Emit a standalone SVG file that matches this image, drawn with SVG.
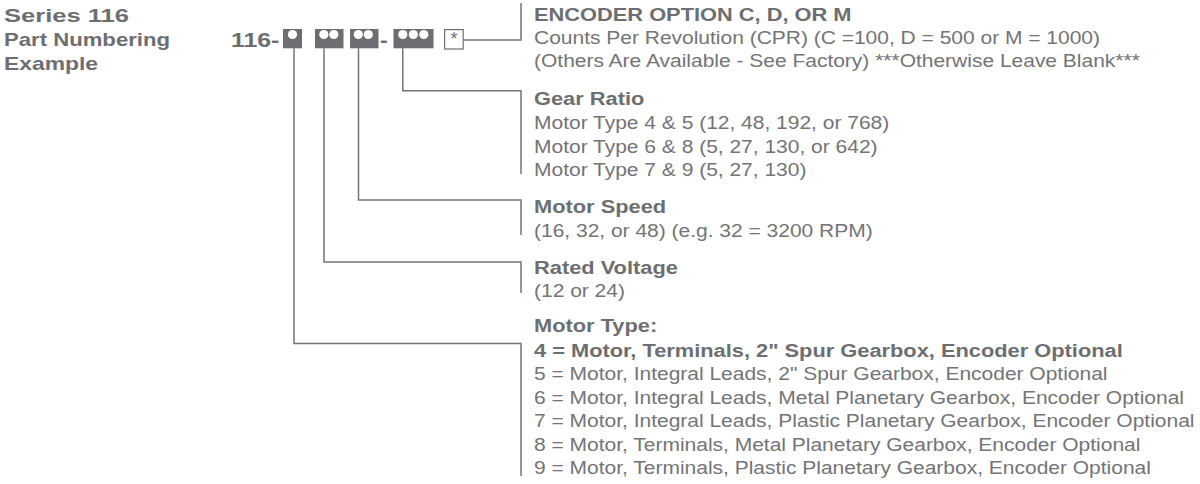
<svg xmlns="http://www.w3.org/2000/svg" width="1200" height="484" viewBox="0 0 1200 484">
<style>
  text { font-family: 'Liberation Sans', Arial, Helvetica, sans-serif; fill: #6d6e71; }
  .t { font-size: 18.5px; font-weight: bold; }
  .b { font-size: 18.5px; font-weight: bold; }
  .r { font-size: 18.5px; fill: #737477; }
  .pn { font-size: 21px; font-weight: bold; }
  .box { fill: #6d6e71; }
  .dot { fill: #ffffff; }
  .star { fill: #ffffff; stroke: #6d6e71; stroke-width: 1.2; }
  .conn { fill: none; stroke: #737477; stroke-width: 1.5; }
</style>
<rect width="1200" height="484" fill="#ffffff"/>

<g id="title">
  <text class="t" x="4" y="21.5" textLength="125" lengthAdjust="spacingAndGlyphs">Series 116</text>
  <text class="t" x="4" y="45.5" textLength="166" lengthAdjust="spacingAndGlyphs">Part Numbering</text>
  <text class="t" x="4" y="69.5" textLength="94" lengthAdjust="spacingAndGlyphs">Example</text>
</g>

<g id="part-number">
  <text class="pn" transform="translate(231,0) scale(1.18,1)" x="0" y="47.5">116-</text>
  <text class="pn" transform="translate(380,0) scale(1.1,1)" x="0" y="47.5">-</text>
</g>

<g id="box-motor-type">
  <rect class="box" x="283" y="29" width="19" height="19.3"/>
  <circle class="dot" cx="292.5" cy="34.5" r="4.6"/>
</g>
<g id="box-rated-voltage">
  <rect class="box" x="315" y="29" width="28.5" height="19.3"/>
  <circle class="dot" cx="323.8" cy="34.5" r="4.6"/>
  <circle class="dot" cx="333.8" cy="34.5" r="4.6"/>
</g>
<g id="box-motor-speed">
  <rect class="box" x="350" y="29" width="28.5" height="19.3"/>
  <circle class="dot" cx="358.3" cy="34.5" r="4.6"/>
  <circle class="dot" cx="368.3" cy="34.5" r="4.6"/>
</g>
<g id="box-gear-ratio">
  <rect class="box" x="393.5" y="29" width="40" height="19.3"/>
  <circle class="dot" cx="402.8" cy="34.5" r="4.6"/>
  <circle class="dot" cx="413.3" cy="34.5" r="4.6"/>
  <circle class="dot" cx="423.8" cy="34.5" r="4.6"/>
</g>
<g id="box-encoder">
  <rect class="star" x="444.6" y="29.6" width="18.6" height="19.4"/>
  <text class="r" style="font-size:18px;fill:#6d6e71" x="453.9" y="44.5" text-anchor="middle">*</text>
</g>

<g id="connectors">
  <path class="conn" d="M463.2,40 H521 V3"/>
  <path class="conn" d="M402.8,48.3 V90.7 H521 V174"/>
  <path class="conn" d="M358.5,48.3 V200 H521 V235"/>
  <path class="conn" d="M324,48.3 V262 H521 V293"/>
  <path class="conn" d="M294,48.3 V343.5 H521 V476"/>
</g>

<g id="encoder-option">
  <text class="b" transform="translate(534,0) scale(1.18,1)" x="0" y="21">ENCODER OPTION C, D, OR M</text>
  <text class="r" transform="translate(534,0) scale(1.135,1)" x="0" y="44.5">Counts Per Revolution (CPR) (C =100, D = 500 or M = 1000)</text>
  <text class="r" transform="translate(534,0) scale(1.135,1)" x="0" y="67.5">(Others Are Available - See Factory) ***Otherwise Leave Blank***</text>
</g>

<g id="gear-ratio">
  <text class="b" transform="translate(534,0) scale(1.18,1)" x="0" y="105.5">Gear Ratio</text>
  <text class="r" transform="translate(534,0) scale(1.135,1)" x="0" y="129.5">Motor Type 4 &amp; 5 (12, 48, 192, or 768)</text>
  <text class="r" transform="translate(534,0) scale(1.135,1)" x="0" y="153">Motor Type 6 &amp; 8 (5, 27, 130, or 642)</text>
  <text class="r" transform="translate(534,0) scale(1.135,1)" x="0" y="176.5">Motor Type 7 &amp; 9 (5, 27, 130)</text>
</g>

<g id="motor-speed">
  <text class="b" transform="translate(534,0) scale(1.18,1)" x="0" y="213.5">Motor Speed</text>
  <text class="r" transform="translate(534,0) scale(1.135,1)" x="0" y="237">(16, 32, or 48) (e.g. 32 = 3200 RPM)</text>
</g>

<g id="rated-voltage">
  <text class="b" transform="translate(534,0) scale(1.18,1)" x="0" y="274">Rated Voltage</text>
  <text class="r" transform="translate(534,0) scale(1.135,1)" x="0" y="297.5">(12 or 24)</text>
</g>

<g id="motor-type">
  <text class="b" transform="translate(534,0) scale(1.18,1)" x="0" y="332.5">Motor Type:</text>
  <text class="b" transform="translate(534,0) scale(1.18,1)" x="0" y="357">4 = Motor, Terminals, 2" Spur Gearbox, Encoder Optional</text>
  <text class="r" transform="translate(534,0) scale(1.135,1)" x="0" y="380.4">5 = Motor, Integral Leads, 2" Spur Gearbox, Encoder Optional</text>
  <text class="r" transform="translate(534,0) scale(1.135,1)" x="0" y="403.8">6 = Motor, Integral Leads, Metal Planetary Gearbox, Encoder Optional</text>
  <text class="r" transform="translate(534,0) scale(1.135,1)" x="0" y="427.2">7 = Motor, Integral Leads, Plastic Planetary Gearbox, Encoder Optional</text>
  <text class="r" transform="translate(534,0) scale(1.135,1)" x="0" y="450.6">8 = Motor, Terminals, Metal Planetary Gearbox, Encoder Optional</text>
  <text class="r" transform="translate(534,0) scale(1.135,1)" x="0" y="474">9 = Motor, Terminals, Plastic Planetary Gearbox, Encoder Optional</text>
</g>
</svg>
